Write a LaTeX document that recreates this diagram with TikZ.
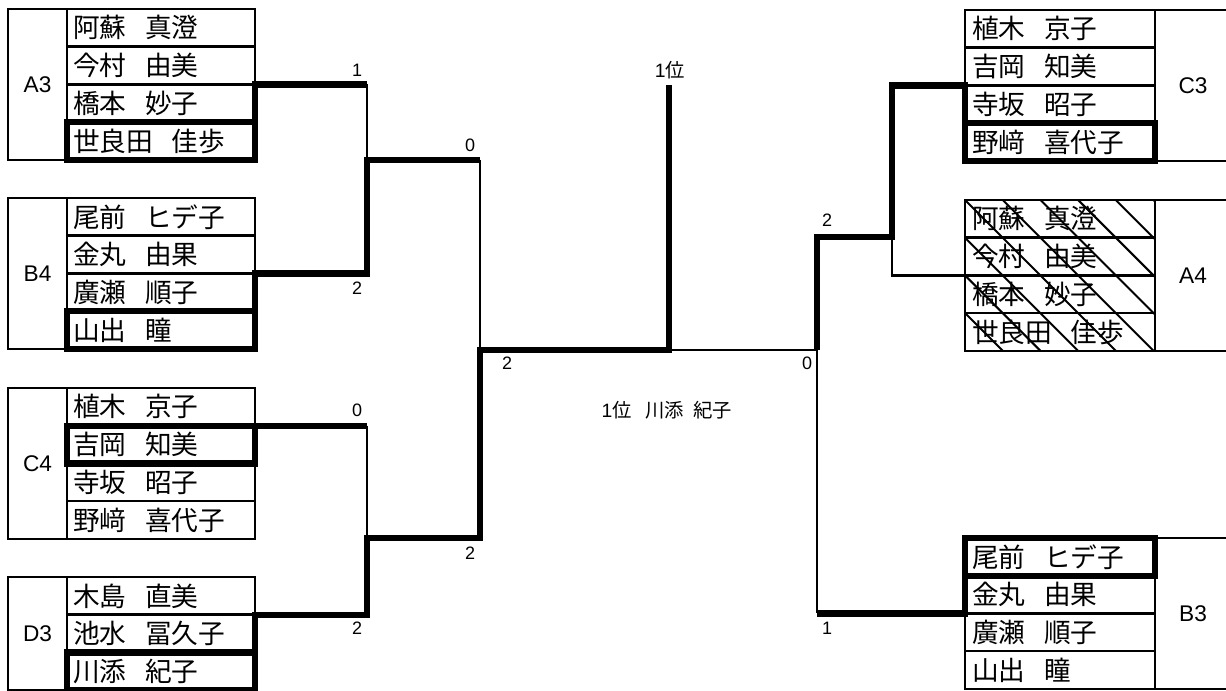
\documentclass[tikz,border=0pt]{standalone}
\usepackage{fontspec}
\setmainfont{Noto Sans CJK JP}
\newfontfamily\lat{Liberation Sans}
\newcommand\nmgap{\hspace{0.7em}}
\tikzset{
  x=0.75pt, y=-0.75pt,
  tline/.style={line width=1.9pt},
  kline/.style={line width=4.8pt},
  hline/.style={line width=1.5pt},
  nm/.style={anchor=west, inner sep=0pt, font=\fontsize{20}{24}\selectfont},
  glab/.style={inner sep=0pt, font=\lat\fontsize{17}{20}\selectfont},
  score/.style={inner sep=0pt, font=\lat\fontsize{13.5}{16}\selectfont},
  clab/.style={inner sep=0pt, font=\fontsize{14.5}{17}\selectfont},
}
% left group: #1 label, #2 top, #3 rows, #4 names
\newcommand\leftgrp[4]{%
  \pgfmathsetmacro\gb{#2+#3*37.7}
  \draw[tline] (8,#2) rectangle (255,\gb);
  \draw[tline] (67,#2) -- (67,\gb);
  \foreach \n [count=\i] in {#4} {
    \pgfmathsetmacro\ry{#2+(\i-0.5)*37.7}
    \node[nm] (#1n\i) at (73,\ry) {\n};
    \ifnum\i<#3 \draw[tline] (67,{#2+\i*37.7}) -- (255,{#2+\i*37.7}); \fi
  }
  \node[glab] (#1) at (37.5,{(#2+\gb)/2}) {#1};
}
% right group
\newcommand\rightgrp[4]{%
  \pgfmathsetmacro\gb{#2+#3*37.7}
  \draw[tline] (965,#2) rectangle (1240,\gb);
  \draw[tline] (1155,#2) -- (1155,\gb);
  \foreach \n [count=\i] in {#4} {
    \pgfmathsetmacro\ry{#2+(\i-0.5)*37.7}
    \node[nm] (#1n\i) at (972,\ry) {\n};
    \ifnum\i<#3 \draw[tline] (965,{#2+\i*37.7}) -- (1155,{#2+\i*37.7}); \fi
  }
  \node[glab] (#1) at (1193,{(#2+\gb)/2}) {#1};
}
\begin{document}
\begin{tikzpicture}
\useasboundingbox (0,0) rectangle (1226,691);
\clip (0,0) rectangle (1226,691);
\fill[white] (0,0) rectangle (1226,691);

% hatching of A4
\begin{scope}
  \clip (965,200) rectangle (1155,350.8);
  \foreach \k in {0,...,9} \draw[hline] ({614.2+37.7*\k+350.8},350.8) -- ++(-200,-200);
\end{scope}

\leftgrp{A3}{9}{4}{阿蘇\nmgap 真澄,今村\nmgap 由美,橋本\nmgap 妙子,世良田\nmgap 佳歩}
\leftgrp{B4}{198}{4}{尾前\nmgap ヒデ子,金丸\nmgap 由果,廣瀬\nmgap 順子,山出\nmgap 瞳}
\leftgrp{C4}{388}{4}{植木\nmgap 京子,吉岡\nmgap 知美,寺坂\nmgap 昭子,野﨑\nmgap 喜代子}
\leftgrp{D3}{577}{3}{木島\nmgap 直美,池水\nmgap 冨久子,川添\nmgap 紀子}
\rightgrp{C3}{10}{4}{植木\nmgap 京子,吉岡\nmgap 知美,寺坂\nmgap 昭子,野﨑\nmgap 喜代子}
\rightgrp{A4}{200}{4}{阿蘇\nmgap 真澄,今村\nmgap 由美,橋本\nmgap 妙子,世良田\nmgap 佳歩}
\rightgrp{B3}{538}{4}{尾前\nmgap ヒデ子,金丸\nmgap 由果,廣瀬\nmgap 順子,山出\nmgap 瞳}

% winner boxes
\draw[kline] (67,122.1) rectangle (255,159.8);
\draw[kline] (67,311.1) rectangle (255,348.8);
\draw[kline] (67,425.7) rectangle (255,463.4);
\draw[kline] (67,652.4) rectangle (255,690.1);
\draw[kline] (965,123.1) rectangle (1155,160.8);
\draw[kline] (965,538) rectangle (1155,575.7);

% bracket coordinates
\coordinate (a3e) at (255,122.1); \coordinate (a3o) at (255,84.4); \coordinate (r1a) at (367,84.4);
\coordinate (b4e) at (255,311.1); \coordinate (b4o) at (255,273.4); \coordinate (r1b) at (367,273.4);
\coordinate (s1) at (367,160); \coordinate (s1e) at (480,160);
\coordinate (c4o) at (255,425.7); \coordinate (r1c) at (367,425.7);
\coordinate (d3e) at (255,652.4); \coordinate (d3o) at (255,614.7); \coordinate (r1d) at (367,614.7);
\coordinate (s2) at (367,538); \coordinate (s2e) at (480,538);
\coordinate (f) at (480,350); \coordinate (fe) at (669,350); \coordinate (champ) at (669,85);
\coordinate (fr) at (817,350);
\coordinate (r2top) at (817,237); \coordinate (r2a) at (892,237); \coordinate (r2c) at (892,85.4);
\coordinate (c3o) at (965,85.4); \coordinate (c3e) at (965,123.1);
\coordinate (a4o) at (965,275.4); \coordinate (r2d) at (892,275.4);
\coordinate (r2b) at (817,613.4); \coordinate (b3o) at (965,613.4); \coordinate (b3e) at (965,575.7);

% bracket lines
\draw[kline] (a3e) -- (a3o) -- (r1a);
\draw[tline] (r1a) -- (s1);
\draw[kline] (b4e) -- (b4o) -- (r1b) -- (s1) -- (s1e);
\draw[kline] (c4o) -- (r1c);
\draw[tline] (r1c) -- (s2);
\draw[kline] (d3e) -- (d3o) -- (r1d) -- (s2) -- (s2e) -- (f) -- (fe) -- (champ);
\draw[tline] (s1e) -- (f);
\draw[tline] (fe) -- (fr);
\draw[kline] (fr) -- (r2top) -- (r2a) -- (r2c) -- (c3o) -- (c3e);
\draw[tline] (a4o) -- (r2d) -- (r2a);
\draw[tline] (fr) -- (r2b);
\draw[kline] (r2b) -- (b3o) -- (b3e);

% scores
\node[score] (sc1) at (357,70) {1};
\node[score] (sc2) at (357,288) {2};
\node[score] (sc3) at (357,410) {0};
\node[score] (sc4) at (357,628) {2};
\node[score] (sc5) at (470,145) {0};
\node[score] (sc6) at (470,553) {2};
\node[score] (sc7) at (507,363) {2};
\node[score] (sc8) at (807,363) {0};
\node[score] (sc9) at (827,220) {2};
\node[score] (sc10) at (827,628) {1};
\node[clab] (first) at (670,70) {{\lat 1}位};
\node[clab] (winner) at (667,410) {{\lat 1}位\hspace{0.7em}川添\hspace{0.5em}紀子};
\end{tikzpicture}
\end{document}
